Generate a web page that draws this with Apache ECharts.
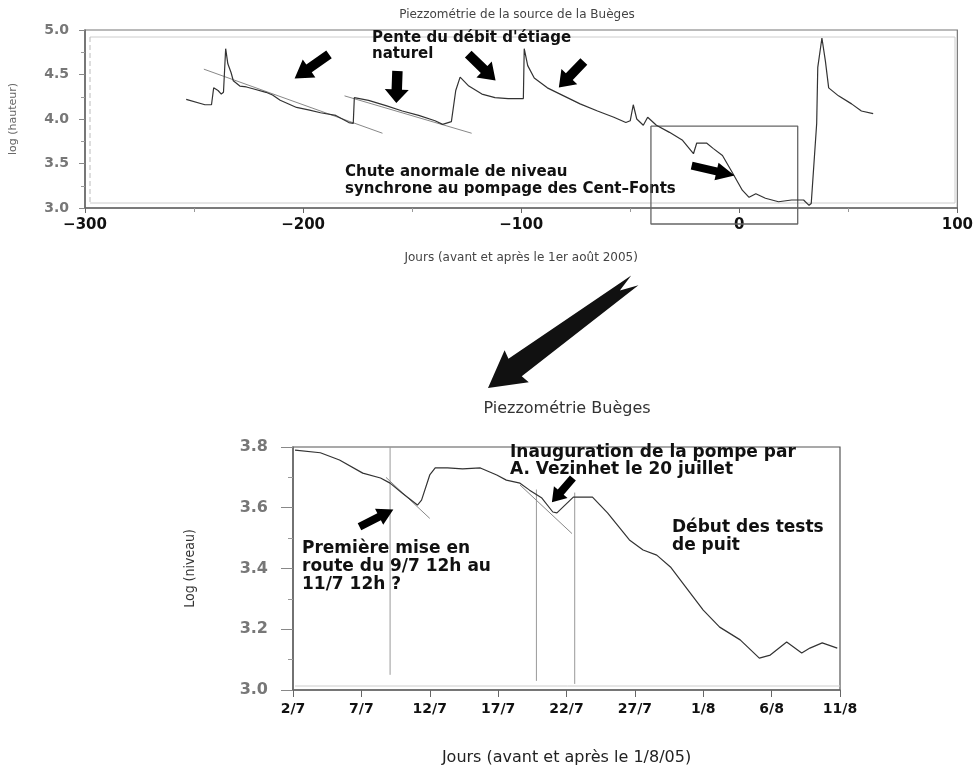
<!DOCTYPE html>
<html><head><meta charset="utf-8">
<script src="https://cdn.jsdelivr.net/npm/echarts@6/dist/echarts.min.js"></script>
<style>html,body{margin:0;padding:0;background:#fff}#c{width:976px;height:769px}</style>
</head><body><div id="c"></div>
<script>
// ---------- DATA ----------
// Top chart: days relative to 1 Aug 2005, log(hauteur)
const topDays = [-253.6,-245,-242,-241,-239,-237.5,-236.5,-235.5,-234.5,-233,-232,-229,-226,-223,-217,-214,-210.5,-203,-197,-192,-185,-179,-177,
  -176.5,-170,-162,-154.5,-147,-139.5,-136,-132,-130,-128,-124,-118,-112,-106,-103,-99,
  -98.6,-97,-94,-88,-80.5,-73,-65,-57.5,-52,-50,-48.6,-47,-44,-42,-38,-32,-26,-21,-19.5,-15,-12,-7.7,-3,1.4,4.5,7.6,12,18,24,29.5,32,33,
  35.5,36,37.9,39.5,41,45.5,51.5,56,61.4];
const topLog = [4.22,4.16,4.16,4.35,4.32,4.28,4.30,4.79,4.62,4.52,4.43,4.37,4.36,4.34,4.30,4.27,4.21,4.13,4.10,4.07,4.04,3.96,3.95,
  4.24,4.21,4.15,4.09,4.04,3.98,3.94,3.97,4.32,4.47,4.37,4.28,4.24,4.23,4.23,4.23,
  4.79,4.60,4.46,4.35,4.26,4.17,4.09,4.02,3.96,3.98,4.16,4.00,3.93,4.02,3.93,3.85,3.76,3.61,3.73,3.73,3.67,3.59,3.39,3.20,3.12,3.16,3.11,3.07,3.09,3.09,3.03,3.05,
  3.95,4.58,4.91,4.65,4.35,4.26,4.17,4.09,4.06];
const slope1Days = [-245.5, -163.6];
const slope1Log = [4.56, 3.84];
const slope2Days = [-181, -122.7];
const slope2Log = [4.26, 3.84];
const zoomBoxDays = [-40.5, 26.8];
const zoomBoxLog = [2.82, 3.92];
const topXTicks = [-300, -200, -100, 0, 100];
const topYTicks = ['3.0','3.5','4.0','4.5','5.0'];

// Bottom chart: days relative to 1 Aug 2005 (2/7 = -30), log(niveau)
const bottomDays = [-29.85,-28.0,-26.6,-24.9,-23.6,-22.9,-22.0,-20.9,-20.6,-20.0,-19.6,-18.7,-17.6,-16.3,-15.1,-14.4,-13.4,-12.7,-11.8,-11.0,-10.7,
  -9.5,-8.1,-7.0,-5.4,-4.4,-3.4,-2.4,-1.5,0.0,1.2,2.7,4.1,4.9,6.1,7.2,7.8,8.7,9.8];
const bottomLog = [3.79,3.781,3.757,3.714,3.698,3.681,3.648,3.609,3.625,3.708,3.731,3.731,3.728,3.731,3.708,3.691,3.681,3.658,3.632,3.586,3.583,
  3.635,3.635,3.583,3.494,3.461,3.444,3.405,3.352,3.263,3.207,3.165,3.105,3.115,3.158,3.122,3.138,3.155,3.138];
const bottomTickLabels = ['2/7','7/7','12/7','17/7','22/7','27/7','1/8','6/8','11/8'];
const markerDays = [-22.9, -12.2, -9.4];
const markerTop = [3.80, 3.66, 3.65];
const markerBottom = [3.05, 3.03, 3.02];
const trendADays = [-23.2, -20.0];
const trendALog = [3.70, 3.565];
const trendBDays = [-13.4, -9.6];
const trendBLog = [3.675, 3.515];

// annotation arrows: [day, value, angle]
const topArrows = [[-196, 4.59, 215], [-157, 4.36, 268], [-118, 4.58, 316], [-77, 4.50, 226], [-12, 3.42, -13]];
const bottomArrows = [[-23.9, 3.566, 27], [-10.3, 3.658, 229]];

// ---------- CHART ----------
const pair = (xs, ys) => xs.map((x, i) => [x, ys[i]]);
const ARROW = 'path://M0,30 L58,30 L58,4 L100,50 L58,96 L58,70 L0,70 Z';
const dark = '#333';
const axisGray = '#666';
const F = 'DejaVu Sans';

const chart = echarts.init(document.getElementById('c'));
const topArrowSizes = [[42,22],[32,24],[38,22],[36,22],[44,18]];
const bottomArrowSizes = [[38,18],[32,18]];

function boxPath() {
  const [x0, x1] = zoomBoxDays, [y0, y1] = zoomBoxLog;
  return [[x0,y1],[x1,y1],[x1,y0],[x0,y0],[x0,y1]];
}
function vlines() {
  const out = [];
  markerDays.forEach((d, i) => {
    out.push({type:'line', xAxisIndex:1, yAxisIndex:1, data:[[d, markerTop[i]],[d, markerBottom[i]]],
      symbol:'none', lineStyle:{color:'#999', width:1}, silent:true, z:1});
  });
  return out;
}

// big arrow between the charts (decoration)
function bigArrowPoints(tail, tip) {
  const dx = tip[0]-tail[0], dy = tip[1]-tail[1];
  const L = Math.hypot(dx, dy), ux = dx/L, uy = dy/L, vx = -uy, vy = ux;
  const loc = [[0,-9],[18,-2],[0,3],[L-34,11],[L-36,20],[L,0],[L-36,-20],[L-34,-11]];
  return loc.map(([u,v]) => [tail[0]+ux*u+vx*v, tail[1]+uy*u+vy*v]);
}

const option = {
  animation: false,
  backgroundColor: '#fff',
  title: [
    {text:'Piezzométrie de la source de la Buèges', left: 512, top: 4, textAlign:'center',
      textStyle:{fontFamily:F, fontSize:12, fontWeight:'normal', color:'#444'}},
    {text:'Piezzométrie Buèges', left: 562, top: 396, textAlign:'center',
      textStyle:{fontFamily:F, fontSize:16, fontWeight:'normal', color:'#333'}}
  ],
  grid: [
    {left:80, top:30, width:880, height:178, show:true, borderColor:'#777', borderWidth:1.2},
    {left:293, top:447, width:547, height:243, show:true, borderColor:'#555', borderWidth:1.2}
  ],
  xAxis: [
    {type:'value', gridIndex:0, min:-300, max:100, interval:100,
      name:'Jours (avant et après le 1er août 2005)', nameLocation:'middle', nameGap:44,
      nameTextStyle:{fontFamily:F, fontSize:12, color:'#444'},
      axisLine:{onZero:false, lineStyle:{color:axisGray, width:1.5}},
      axisTick:{length:5, lineStyle:{color:axisGray}},
      minorTick:{show:true, splitNumber:2, length:4, lineStyle:{color:'#999'}},
      splitLine:{show:false},
      axisLabel:{fontFamily:F, fontSize:15, fontWeight:'bold', color:'#111', margin:10,
        formatter: v => topXTicks.includes(v) ? (v < 0 ? '\u2212' + Math.abs(v) : String(v)) : ''}},
    {type:'value', gridIndex:1, min:-30, max:10, interval:5,
      name:'Jours (avant et après le 1/8/05)', nameLocation:'middle', nameGap:60,
      nameTextStyle:{fontFamily:F, fontSize:16, color:'#222'},
      axisLine:{onZero:false, lineStyle:{color:axisGray, width:1.5}},
      axisTick:{length:7, lineStyle:{color:axisGray}},
      splitLine:{show:false},
      axisLabel:{fontFamily:F, fontSize:14, fontWeight:'bold', color:'#111', margin:12,
        formatter: v => bottomTickLabels[Math.round((v + 30) / 5)] || ''}}
  ],
  yAxis: [
    {type:'value', gridIndex:0, min:3, max:5, interval:0.5,
      name:'log (hauteur)', nameLocation:'middle', nameGap:66,
      nameTextStyle:{fontFamily:F, fontSize:11, color:'#666'},
      axisLine:{onZero:false, lineStyle:{color:axisGray, width:1.5}},
      axisTick:{length:6, lineStyle:{color:'#888'}},
      minorTick:{show:true, splitNumber:2, length:4, lineStyle:{color:'#999'}},
      splitLine:{show:false},
      axisLabel:{fontFamily:F, fontSize:14, fontWeight:'bold', color:'#777', margin:16,
        formatter: v => { const s = v.toFixed(1); return topYTicks.includes(s) ? s : ''; }}},
    {type:'value', gridIndex:1, min:3, max:3.8, interval:0.2,
      name:'Log (niveau)', nameLocation:'middle', nameGap:96,
      nameTextStyle:{fontFamily:'"DejaVu Sans Condensed", "DejaVu Sans"', fontSize:14, color:'#333'},
      axisLine:{onZero:false, lineStyle:{color:axisGray, width:1.5}},
      axisTick:{length:12, lineStyle:{color:'#888'}},
      minorTick:{show:true, splitNumber:2, length:5, lineStyle:{color:'#999'}},
      splitLine:{show:false},
      axisLabel:{fontFamily:F, fontSize:16, fontWeight:'bold', color:'#777', margin:25,
        formatter: v => v.toFixed(1)}}
  ],
  series: [
    {type:'line', xAxisIndex:0, yAxisIndex:0, data:pair(topDays, topLog), symbol:'none',
      lineStyle:{color:dark, width:1.2}, z:3},
    {type:'line', xAxisIndex:0, yAxisIndex:0, data:pair(slope1Days, slope1Log), symbol:'none',
      lineStyle:{color:'#888', width:1}, z:2},
    {type:'line', xAxisIndex:0, yAxisIndex:0, data:pair(slope2Days, slope2Log), symbol:'none',
      lineStyle:{color:'#888', width:1}, z:2},
    {type:'line', xAxisIndex:0, yAxisIndex:0, data:boxPath(), symbol:'none', clip:false,
      lineStyle:{color:'#666', width:1.3}, z:2},
    {type:'scatter', xAxisIndex:0, yAxisIndex:0, symbol:ARROW, clip:false,
      data: topArrows.map((a, i) => ({value:[a[0], a[1]], symbolRotate:a[2], symbolSize:topArrowSizes[i]})),
      itemStyle:{color:'#000', opacity:1}, z:5},
    {type:'line', xAxisIndex:1, yAxisIndex:1, data:pair(bottomDays, bottomLog), symbol:'none',
      lineStyle:{color:dark, width:1.2}, z:3},
    {type:'line', xAxisIndex:1, yAxisIndex:1, data:pair(trendADays, trendALog), symbol:'none',
      lineStyle:{color:'#888', width:1}, z:2},
    {type:'line', xAxisIndex:1, yAxisIndex:1, data:pair(trendBDays, trendBLog), symbol:'none',
      lineStyle:{color:'#888', width:1}, z:2},
    ...vlines(),
    {type:'scatter', xAxisIndex:1, yAxisIndex:1, symbol:ARROW, clip:false,
      data: bottomArrows.map((a, i) => ({value:[a[0], a[1]], symbolRotate:a[2], symbolSize:bottomArrowSizes[i]})),
      itemStyle:{color:'#000', opacity:1}, z:5}
  ],
  graphic: [
    // inner light frame of upper plot
    {type:'line', shape:{x1:90,y1:37,x2:955,y2:37}, style:{stroke:'#ccc', lineWidth:1}},
    {type:'line', shape:{x1:955,y1:37,x2:955,y2:203}, style:{stroke:'#ccc', lineWidth:1}},
    {type:'line', shape:{x1:90,y1:203,x2:955,y2:203}, style:{stroke:'#ccc', lineWidth:1}},
    {type:'line', shape:{x1:90,y1:37,x2:90,y2:203}, style:{stroke:'#bbb', lineWidth:1, lineDash:[5,3]}},
    {type:'line', shape:{x1:295,y1:686,x2:840,y2:686}, style:{stroke:'#ccc', lineWidth:1}},
    {type:'polygon', shape:{points: bigArrowPoints([633, 278], [488, 388])}, style:{fill:'#111'}},
    {type:'text', left:372, top:30, style:{text:"Pente du débit d'étiage\nnaturel", font:'bold 15px "DejaVu Sans"', fill:'#111', lineHeight:16}},
    {type:'text', left:345, top:164, style:{text:'Chute anormale de niveau\nsynchrone au pompage des Cent\u2013Fonts', font:'bold 15px "DejaVu Sans"', fill:'#111', lineHeight:17}},
    {type:'text', left:302, top:540, style:{text:'Première mise en\nroute du 9/7 12h au\n11/7 12h ?', font:'bold 17px "DejaVu Sans"', fill:'#111', lineHeight:18}},
    {type:'text', left:510, top:444, style:{text:'Inauguration de la pompe par\nA. Vezinhet le 20 juillet', font:'bold 17px "DejaVu Sans"', fill:'#111', lineHeight:17}},
    {type:'text', left:672, top:519, style:{text:'Début des tests\nde puit', font:'bold 17px "DejaVu Sans"', fill:'#111', lineHeight:18}}
  ]
};
chart.setOption(option);
</script>
</body></html>
